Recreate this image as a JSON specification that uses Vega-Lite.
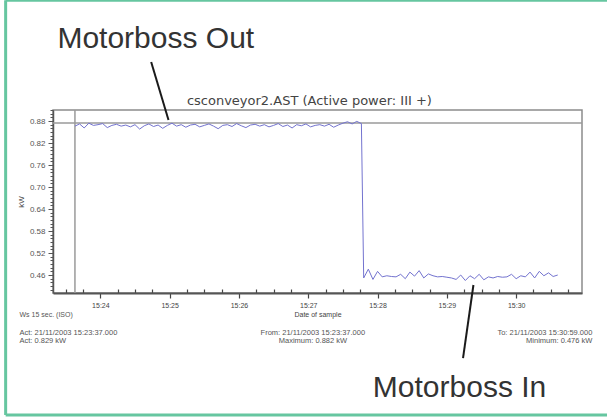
{
  "$schema": "https://vega.github.io/schema/vega-lite/v6.json",
  "width": 529,
  "height": 183,
  "autosize": {"type": "none"},
  "padding": {"left": 53, "top": 110, "right": 25, "bottom": 124},
  "background": "white",
  "config": {
    "font": "Liberation Sans",
    "view": {"stroke": "#8c8c8c", "strokeWidth": 1.5}
  },
  "datasets": {
    "series": [
      {"t": "2003-11-21T15:23:38", "kW": 0.866},
      {"t": "2003-11-21T15:23:42", "kW": 0.872},
      {"t": "2003-11-21T15:23:46", "kW": 0.861},
      {"t": "2003-11-21T15:23:50", "kW": 0.874},
      {"t": "2003-11-21T15:23:54", "kW": 0.868},
      {"t": "2003-11-21T15:23:58", "kW": 0.870},
      {"t": "2003-11-21T15:24:02", "kW": 0.873},
      {"t": "2003-11-21T15:24:06", "kW": 0.862},
      {"t": "2003-11-21T15:24:10", "kW": 0.868},
      {"t": "2003-11-21T15:24:14", "kW": 0.871},
      {"t": "2003-11-21T15:24:18", "kW": 0.866},
      {"t": "2003-11-21T15:24:22", "kW": 0.869},
      {"t": "2003-11-21T15:24:26", "kW": 0.864},
      {"t": "2003-11-21T15:24:30", "kW": 0.870},
      {"t": "2003-11-21T15:24:34", "kW": 0.858},
      {"t": "2003-11-21T15:24:38", "kW": 0.867},
      {"t": "2003-11-21T15:24:42", "kW": 0.872},
      {"t": "2003-11-21T15:24:46", "kW": 0.865},
      {"t": "2003-11-21T15:24:50", "kW": 0.869},
      {"t": "2003-11-21T15:24:54", "kW": 0.860},
      {"t": "2003-11-21T15:24:58", "kW": 0.868},
      {"t": "2003-11-21T15:25:02", "kW": 0.874},
      {"t": "2003-11-21T15:25:06", "kW": 0.866},
      {"t": "2003-11-21T15:25:10", "kW": 0.870},
      {"t": "2003-11-21T15:25:14", "kW": 0.863},
      {"t": "2003-11-21T15:25:18", "kW": 0.869},
      {"t": "2003-11-21T15:25:22", "kW": 0.871},
      {"t": "2003-11-21T15:25:26", "kW": 0.864},
      {"t": "2003-11-21T15:25:30", "kW": 0.868},
      {"t": "2003-11-21T15:25:34", "kW": 0.872},
      {"t": "2003-11-21T15:25:38", "kW": 0.866},
      {"t": "2003-11-21T15:25:42", "kW": 0.859},
      {"t": "2003-11-21T15:25:46", "kW": 0.868},
      {"t": "2003-11-21T15:25:50", "kW": 0.870},
      {"t": "2003-11-21T15:25:54", "kW": 0.865},
      {"t": "2003-11-21T15:25:58", "kW": 0.873},
      {"t": "2003-11-21T15:26:02", "kW": 0.867},
      {"t": "2003-11-21T15:26:06", "kW": 0.862},
      {"t": "2003-11-21T15:26:10", "kW": 0.869},
      {"t": "2003-11-21T15:26:14", "kW": 0.871},
      {"t": "2003-11-21T15:26:18", "kW": 0.866},
      {"t": "2003-11-21T15:26:22", "kW": 0.870},
      {"t": "2003-11-21T15:26:26", "kW": 0.864},
      {"t": "2003-11-21T15:26:30", "kW": 0.868},
      {"t": "2003-11-21T15:26:34", "kW": 0.873},
      {"t": "2003-11-21T15:26:38", "kW": 0.865},
      {"t": "2003-11-21T15:26:42", "kW": 0.869},
      {"t": "2003-11-21T15:26:46", "kW": 0.861},
      {"t": "2003-11-21T15:26:50", "kW": 0.870},
      {"t": "2003-11-21T15:26:54", "kW": 0.867},
      {"t": "2003-11-21T15:26:58", "kW": 0.872},
      {"t": "2003-11-21T15:27:02", "kW": 0.864},
      {"t": "2003-11-21T15:27:06", "kW": 0.868},
      {"t": "2003-11-21T15:27:10", "kW": 0.870},
      {"t": "2003-11-21T15:27:14", "kW": 0.866},
      {"t": "2003-11-21T15:27:18", "kW": 0.871},
      {"t": "2003-11-21T15:27:22", "kW": 0.863},
      {"t": "2003-11-21T15:27:26", "kW": 0.869},
      {"t": "2003-11-21T15:27:30", "kW": 0.874},
      {"t": "2003-11-21T15:27:34", "kW": 0.878},
      {"t": "2003-11-21T15:27:38", "kW": 0.872},
      {"t": "2003-11-21T15:27:42", "kW": 0.879},
      {"t": "2003-11-21T15:27:46", "kW": 0.873},
      {"t": "2003-11-21T15:27:48", "kW": 0.452},
      {"t": "2003-11-21T15:27:52", "kW": 0.476},
      {"t": "2003-11-21T15:27:56", "kW": 0.448},
      {"t": "2003-11-21T15:28:00", "kW": 0.470},
      {"t": "2003-11-21T15:28:04", "kW": 0.455},
      {"t": "2003-11-21T15:28:08", "kW": 0.458},
      {"t": "2003-11-21T15:28:12", "kW": 0.456},
      {"t": "2003-11-21T15:28:16", "kW": 0.455},
      {"t": "2003-11-21T15:28:20", "kW": 0.462},
      {"t": "2003-11-21T15:28:24", "kW": 0.450},
      {"t": "2003-11-21T15:28:28", "kW": 0.468},
      {"t": "2003-11-21T15:28:32", "kW": 0.457},
      {"t": "2003-11-21T15:28:36", "kW": 0.472},
      {"t": "2003-11-21T15:28:40", "kW": 0.452},
      {"t": "2003-11-21T15:28:44", "kW": 0.463},
      {"t": "2003-11-21T15:28:48", "kW": 0.458},
      {"t": "2003-11-21T15:28:52", "kW": 0.455},
      {"t": "2003-11-21T15:28:56", "kW": 0.456},
      {"t": "2003-11-21T15:29:00", "kW": 0.454},
      {"t": "2003-11-21T15:29:04", "kW": 0.452},
      {"t": "2003-11-21T15:29:08", "kW": 0.448},
      {"t": "2003-11-21T15:29:12", "kW": 0.460},
      {"t": "2003-11-21T15:29:16", "kW": 0.445},
      {"t": "2003-11-21T15:29:20", "kW": 0.458},
      {"t": "2003-11-21T15:29:24", "kW": 0.450},
      {"t": "2003-11-21T15:29:28", "kW": 0.462},
      {"t": "2003-11-21T15:29:32", "kW": 0.447},
      {"t": "2003-11-21T15:29:36", "kW": 0.455},
      {"t": "2003-11-21T15:29:40", "kW": 0.452},
      {"t": "2003-11-21T15:29:44", "kW": 0.456},
      {"t": "2003-11-21T15:29:48", "kW": 0.454},
      {"t": "2003-11-21T15:29:52", "kW": 0.455},
      {"t": "2003-11-21T15:29:56", "kW": 0.462},
      {"t": "2003-11-21T15:30:00", "kW": 0.450},
      {"t": "2003-11-21T15:30:04", "kW": 0.458},
      {"t": "2003-11-21T15:30:08", "kW": 0.455},
      {"t": "2003-11-21T15:30:12", "kW": 0.468},
      {"t": "2003-11-21T15:30:16", "kW": 0.452},
      {"t": "2003-11-21T15:30:20", "kW": 0.470},
      {"t": "2003-11-21T15:30:24", "kW": 0.458},
      {"t": "2003-11-21T15:30:28", "kW": 0.466},
      {"t": "2003-11-21T15:30:32", "kW": 0.456},
      {"t": "2003-11-21T15:30:36", "kW": 0.460}
    ]
  },
  "layer": [
    {
      "data": {"values": [{}]},
      "mark": {"type": "rule", "color": "#9a9a9a", "strokeWidth": 1.5},
      "encoding": {
        "y": {"datum": 0.8745, "type": "quantitative", "axis": null}
      }
    },
    {
      "data": {"values": [{}]},
      "mark": {"type": "rule", "color": "#9a9a9a", "strokeWidth": 1.5},
      "encoding": {
        "x": {"datum": {"year": 2003, "month": 11, "date": 21, "hours": 15, "minutes": 23, "seconds": 38}, "type": "temporal", "axis": null}
      }
    },
    {
      "data": {"name": "series"},
      "mark": {"type": "line", "color": "#7373cf", "strokeWidth": 1},
      "encoding": {
        "x": {
          "field": "t",
          "type": "temporal",
          "scale": {
            "domain": [
              {"year": 2003, "month": 11, "date": 21, "hours": 15, "minutes": 23, "seconds": 19},
              {"year": 2003, "month": 11, "date": 21, "hours": 15, "minutes": 30, "seconds": 57}
            ],
            "nice": false
          },
          "axis": {
            "orient": "bottom",
            "tickCount": 31,
            "labelExpr": "seconds(datum.value) == 0 ? timeFormat(datum.value, '%H:%M') : ''",
            "labelOverlap": false,
            "labelFontSize": 7,
            "labelColor": "#444",
            "labelPadding": 3,
            "tickSize": {"condition": {"test": "seconds(datum.value) == 0", "value": 5}, "value": -4},
            "tickColor": "#444",
            "tickWidth": 1.2,
            "domainColor": "#555",
            "domainWidth": 2,
            "grid": false,
            "title": "Date of sample",
            "titleFontSize": 7,
            "titleFontWeight": "normal",
            "titleColor": "#444",
            "titlePadding": 2
          }
        },
        "y": {
          "field": "kW",
          "type": "quantitative",
          "scale": {"domain": [0.411, 0.91], "nice": false, "zero": false},
          "axis": {
            "orient": "left",
            "tickCount": 50,
            "labelExpr": "(round(datum.value * 100) - 46) % 6 == 0 ? format(datum.value, '.2f') : ''",
            "labelOverlap": false,
            "labelFontSize": 8,
            "labelColor": "#555",
            "labelPadding": 3,
            "tickSize": {"condition": {"test": "(round(datum.value * 100) - 46) % 6 == 0", "value": 5}, "value": 3},
            "tickColor": "#555",
            "tickWidth": 1,
            "domainColor": "#555",
            "domainWidth": 1.5,
            "grid": false,
            "title": "kW",
            "titleFontSize": 8,
            "titleFontWeight": "normal",
            "titleColor": "#444",
            "titlePadding": 4
          }
        }
      }
    },
    {
      "data": {"values": [{}]},
      "mark": {"type": "text", "text": "csconveyor2.AST (Active power: III +)", "font": "DejaVu Sans", "fontSize": 13, "color": "#444444", "align": "center", "baseline": "alphabetic"},
      "encoding": {
        "x": {"datum": {"year": 2003, "month": 11, "date": 21, "hours": 15, "minutes": 27, "seconds": 1}, "type": "temporal", "axis": null},
        "y": {"datum": 0.9236, "type": "quantitative", "axis": null}
      }
    },
    {
      "data": {"values": [{}]},
      "mark": {"type": "rule", "color": "#66c6a0", "strokeWidth": 3},
      "encoding": {
        "x": {"datum": {"year": 2003, "month": 11, "date": 21, "hours": 15, "minutes": 22, "seconds": 38}, "type": "temporal", "axis": null},
        "x2": {"datum": {"year": 2003, "month": 11, "date": 21, "hours": 15, "minutes": 31, "seconds": 40}},
        "y": {"datum": 1.2091, "type": "quantitative", "axis": null}
      }
    },
    {
      "data": {"values": [{}]},
      "mark": {"type": "rule", "color": "#66c6a0", "strokeWidth": 3},
      "encoding": {
        "x": {"datum": {"year": 2003, "month": 11, "date": 21, "hours": 15, "minutes": 22, "seconds": 38}, "type": "temporal", "axis": null},
        "x2": {"datum": {"year": 2003, "month": 11, "date": 21, "hours": 15, "minutes": 31, "seconds": 40}},
        "y": {"datum": 0.0783, "type": "quantitative", "axis": null}
      }
    },
    {
      "data": {"values": [{}]},
      "mark": {"type": "rule", "color": "#66c6a0", "strokeWidth": 3},
      "encoding": {
        "x": {"datum": {"year": 2003, "month": 11, "date": 21, "hours": 15, "minutes": 22, "seconds": 38}, "type": "temporal", "axis": null},
        "y": {"datum": 0.0783, "type": "quantitative", "axis": null},
        "y2": {"datum": 1.2091}
      }
    },
    {
      "data": {"values": [{}]},
      "mark": {"type": "rule", "color": "#1a1a1a", "strokeWidth": 2},
      "encoding": {
        "x": {"datum": {"year": 2003, "month": 11, "date": 21, "hours": 15, "minutes": 24, "seconds": 44}, "type": "temporal", "axis": null},
        "x2": {"datum": {"year": 2003, "month": 11, "date": 21, "hours": 15, "minutes": 24, "seconds": 59}},
        "y": {"datum": 1.0409, "type": "quantitative", "axis": null},
        "y2": {"datum": 0.8827}
      }
    },
    {
      "data": {"values": [{}]},
      "mark": {"type": "rule", "color": "#1a1a1a", "strokeWidth": 2},
      "encoding": {
        "x": {"datum": {"year": 2003, "month": 11, "date": 21, "hours": 15, "minutes": 29, "seconds": 23}, "type": "temporal", "axis": null},
        "x2": {"datum": {"year": 2003, "month": 11, "date": 21, "hours": 15, "minutes": 29, "seconds": 14}},
        "y": {"datum": 0.4328, "type": "quantitative", "axis": null},
        "y2": {"datum": 0.2337}
      }
    },
    {
      "data": {"values": [{}]},
      "mark": {"type": "text", "text": "Motorboss Out", "fontSize": 30, "color": "#333333", "align": "center", "baseline": "alphabetic"},
      "encoding": {
        "x": {"datum": {"year": 2003, "month": 11, "date": 21, "hours": 15, "minutes": 24, "seconds": 48}, "type": "temporal", "axis": null},
        "y": {"datum": 1.0791, "type": "quantitative", "axis": null}
      }
    },
    {
      "data": {"values": [{}]},
      "mark": {"type": "text", "text": "Motorboss In", "fontSize": 30, "color": "#333333", "align": "center", "baseline": "alphabetic"},
      "encoding": {
        "x": {"datum": {"year": 2003, "month": 11, "date": 21, "hours": 15, "minutes": 29, "seconds": 11}, "type": "temporal", "axis": null},
        "y": {"datum": 0.1273, "type": "quantitative", "axis": null}
      }
    },
    {
      "data": {"values": [{}]},
      "mark": {"type": "text", "text": "Ws 15 sec. (ISO)", "fontSize": 7, "color": "#555", "align": "left", "baseline": "middle"},
      "encoding": {
        "x": {"datum": {"year": 2003, "month": 11, "date": 21, "hours": 15, "minutes": 22, "seconds": 50}, "type": "temporal", "axis": null},
        "y": {"datum": 0.351, "type": "quantitative", "axis": null}
      }
    },
    {
      "data": {"values": [{}]},
      "mark": {"type": "text", "text": ["Act: 21/11/2003 15:23:37.000", "Act: 0.829 kW"], "fontSize": 7.5, "lineHeight": 7.5, "color": "#555", "align": "left", "baseline": "middle"},
      "encoding": {
        "x": {"datum": {"year": 2003, "month": 11, "date": 21, "hours": 15, "minutes": 22, "seconds": 50}, "type": "temporal", "axis": null},
        "y": {"datum": 0.3012, "type": "quantitative", "axis": null}
      }
    },
    {
      "data": {"values": [{}]},
      "mark": {"type": "text", "text": ["From: 21/11/2003 15:23:37.000", "Maximum: 0.882 kW"], "fontSize": 7.5, "lineHeight": 7.5, "color": "#555", "align": "center", "baseline": "middle"},
      "encoding": {
        "x": {"datum": {"year": 2003, "month": 11, "date": 21, "hours": 15, "minutes": 27, "seconds": 4}, "type": "temporal", "axis": null},
        "y": {"datum": 0.3012, "type": "quantitative", "axis": null}
      }
    },
    {
      "data": {"values": [{}]},
      "mark": {"type": "text", "text": ["To: 21/11/2003 15:30:59.000", "Minimum: 0.476 kW"], "fontSize": 7.5, "lineHeight": 7.5, "color": "#555", "align": "right", "baseline": "middle"},
      "encoding": {
        "x": {"datum": {"year": 2003, "month": 11, "date": 21, "hours": 15, "minutes": 31, "seconds": 6}, "type": "temporal", "axis": null},
        "y": {"datum": 0.3012, "type": "quantitative", "axis": null}
      }
    }
  ],
  "resolve": {"axis": {"x": "independent", "y": "independent"}}
}
